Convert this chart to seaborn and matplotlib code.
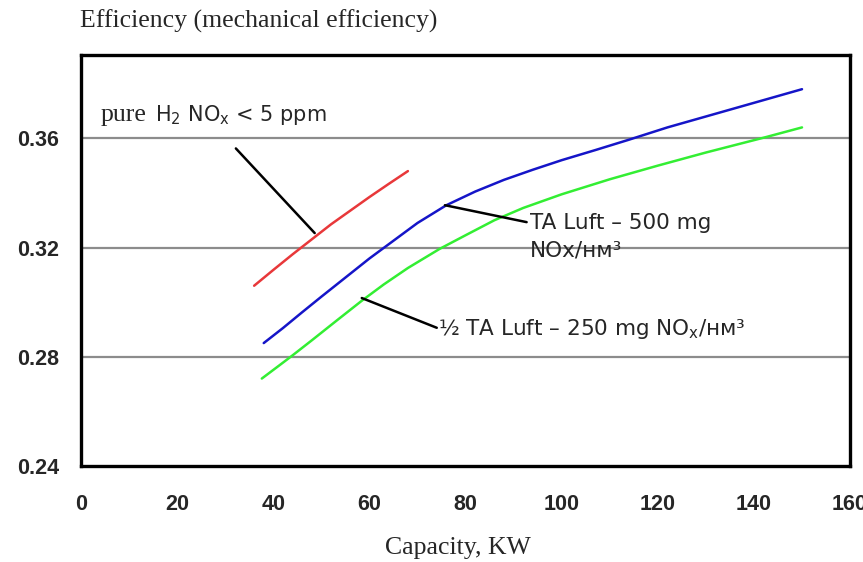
import pandas as pd
import seaborn as sns
import matplotlib.pyplot as plt

# ----- data -----
red_kw = [36, 40, 44, 48, 52, 56, 60, 64, 68]
red_eff = [0.306, 0.3118, 0.3175, 0.323, 0.3285, 0.3335, 0.3385, 0.3433, 0.348]

blue_kw = [38, 42, 46, 50, 55, 60, 65, 70, 76, 82, 88, 94, 100, 107, 114, 122, 130, 140, 150]
blue_eff = [0.285, 0.2905, 0.2963, 0.302, 0.309, 0.316, 0.3225, 0.329, 0.3355, 0.3405,
            0.3448, 0.3485, 0.352, 0.3557, 0.3595, 0.364, 0.368, 0.373, 0.378]

green_kw = [37.6, 41, 44, 48, 53, 58.4, 63, 68, 74.6, 80, 86, 92, 100, 110, 120, 130, 142.6, 150]
green_eff = [0.272, 0.2765, 0.2805, 0.286, 0.293, 0.3005, 0.3065, 0.3125, 0.3195, 0.3245,
             0.330, 0.3345, 0.3395, 0.345, 0.350, 0.3548, 0.3605, 0.364]

series_names = ["pure H2", "TA Luft 500", "half TA Luft 250"]
series_colors = ["#e8383a", "#1515c8", "#33ee33"]
x_ticks = [0, 20, 40, 60, 80, 100, 120, 140, 160]
y_ticks = [0.24, 0.28, 0.32, 0.36]

df = pd.concat([
    pd.DataFrame({"kw": red_kw, "eff": red_eff, "series": series_names[0]}),
    pd.DataFrame({"kw": blue_kw, "eff": blue_eff, "series": series_names[1]}),
    pd.DataFrame({"kw": green_kw, "eff": green_eff, "series": series_names[2]}),
], ignore_index=True)

# ----- figure -----
sns.set_style("white")
fig = plt.figure(figsize=(8.63, 5.62), dpi=100)
ax = fig.add_axes([0.094, 0.171, 0.891, 0.731])

for y in y_ticks[1:]:
    ax.axhline(y, color="#8c8c8c", lw=1.6, zorder=1)

sns.lineplot(data=df, x="kw", y="eff", hue="series", palette=series_colors,
             hue_order=series_names, lw=1.8, legend=False, ax=ax, zorder=3,
             estimator=None, sort=False)

ax.set_xlim(0, 160)
ax.set_ylim(0.24, 0.3905)
ax.set_xticks(x_ticks)
ax.set_yticks(y_ticks)
ax.set_xticklabels([str(t) for t in x_ticks])
ax.set_yticklabels([f"{t:.2f}" for t in y_ticks])
ax.tick_params(axis="both", direction="in", length=5, width=1, color="#555555",
               labelsize=15.5, pad=16)
ax.tick_params(axis="x", pad=20)
for lab in ax.get_xticklabels() + ax.get_yticklabels():
    lab.set_fontweight("bold")
    lab.set_family("Liberation Sans")
for sp in ax.spines.values():
    sp.set_linewidth(2.4)
    sp.set_color("black")
ax.set_xlabel("")
ax.set_ylabel("")

# ----- annotations -----
sans = "DejaVu Sans"
ax.plot([32.2, 48.6], [0.3563, 0.3253], color="black", lw=1.8, zorder=4)
ax.text(4, 0.3684, "pure", family="Liberation Serif", fontsize=18.5, va="center")
ax.text(15.4, 0.3684, r"H$\mathregular{_2}$ NO$\mathregular{_x}$ < 5 ppm", family=sans,
        fontsize=15, va="center")

ax.plot([75.7, 92.7], [0.3355, 0.3293], color="black", lw=1.8, zorder=4)
ax.text(93.3, 0.3288, "TA Luft – 500 mg", family=sans, fontsize=15.5, va="center")
ax.text(93.3, 0.3188, "NOx/ʜᴍ³", family=sans, fontsize=15.5, va="center")

ax.plot([58.4, 74.0], [0.3015, 0.2906], color="black", lw=1.8, zorder=4)
ax.text(74.3, 0.2900, r"½ TA Luft – 250 mg NO$\mathregular{_x}$/ʜᴍ³", family=sans,
        fontsize=15.5, va="center")

fig.text(0.093, 0.962, "Efficiency (mechanical efficiency)", family="Liberation Serif",
         fontsize=18.5, va="center", ha="left")
fig.text(0.53, 0.025, "Capacity, KW", family="Liberation Serif", fontsize=18.5,
         va="center", ha="center")

fig.savefig("out.png", dpi=100)
